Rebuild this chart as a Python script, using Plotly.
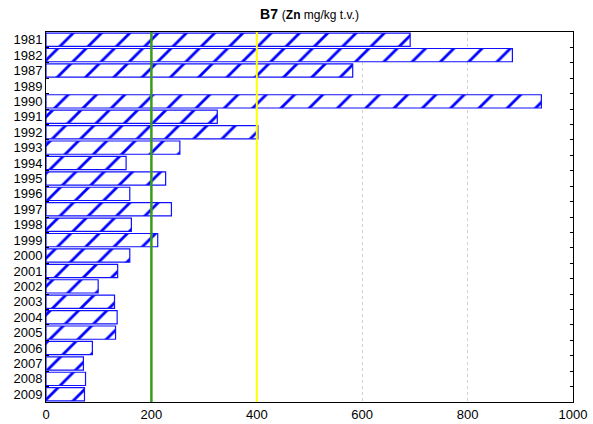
import plotly.graph_objects as go

years = ["1981", "1982", "1987", "1989", "1990", "1991", "1992", "1993", "1994", "1995",
         "1996", "1997", "1998", "1999", "2000", "2001", "2002", "2003", "2004", "2005",
         "2006", "2007", "2008", "2009"]
zn = [691, 885, 582, None, 940, 325, 402, 254, 152, 227,
      159, 238, 162, 212, 159, 136, 99, 130, 135, 132,
      88, 71, 75, 73]
x_ticks = [0, 200, 400, 600, 800, 1000]
limit_green = 200
limit_yellow = 400

fig = go.Figure()
fig.add_trace(go.Bar(
    y=years, x=zn, orientation="h",
    marker=dict(color="white",
                line=dict(color="#1010ff", width=1.2),
                pattern=dict(shape="/", fgcolor="#0000ff", bgcolor="white",
                             size=20, solidity=0.14, fgopacity=1)),
    showlegend=False,
))

fig.add_shape(type="line", x0=limit_green, x1=limit_green, y0=0, y1=1, yref="paper",
              line=dict(color="#3a9a1a", width=2.5))
fig.add_shape(type="line", x0=limit_yellow, x1=limit_yellow, y0=0, y1=1, yref="paper",
              line=dict(color="#ffff00", width=2))

fig.update_layout(
    width=593, height=424,
    margin=dict(l=46, r=20, t=32, b=22, autoexpand=False),
    paper_bgcolor="white", plot_bgcolor="white",
    bargap=0.14,
    font=dict(family="Liberation Sans, Arial", size=13, color="black"),
    title=dict(text="<b>B7</b> <span style='font-size:12px'>(<b>Zn</b> mg/kg t.v.)</span>",
               x=0.5, xref="paper", xanchor="center", y=0.978, yanchor="top",
               font=dict(size=14), automargin=False),
    xaxis=dict(range=[0, 1000], tickvals=x_ticks, showgrid=True,
               gridcolor="#d0d0d0", griddash="dot", gridwidth=1,
               showline=True, linecolor="black", linewidth=1, mirror=True,
               ticks="", zeroline=False, tickfont=dict(size=13), automargin=False),
    yaxis=dict(categoryorder="array", categoryarray=years, autorange="reversed",
               tickmode="array", tickvals=years, ticktext=years,
               showline=True, linecolor="black", linewidth=1, mirror="ticks",
               ticks="inside", ticklen=3, tickson="boundaries", tickcolor="black",
               showgrid=False, tickfont=dict(size=13), automargin=False),
)

fig.write_html("out.html", config={"displayModeBar": False},
               post_script="document.body.style.margin='0';document.body.style.overflow='hidden';")
